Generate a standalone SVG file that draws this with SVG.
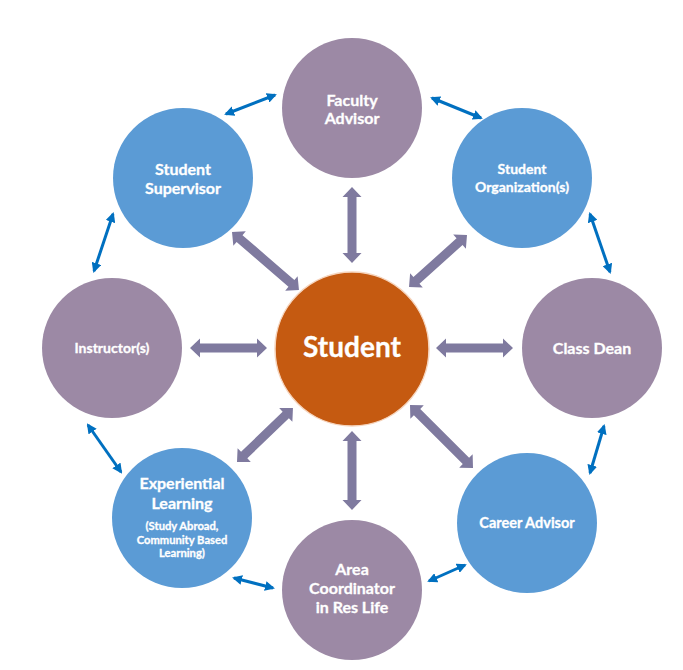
<svg xmlns="http://www.w3.org/2000/svg" width="683" height="670" viewBox="0 0 683 670">
<style>
.purple{fill:#9C89A5}
.blue{fill:#5B9BD5}
.center{fill:#C55A11;stroke:#F6D5BE;stroke-width:1.5}
text{font-family:Lato,"Open Sans","Liberation Sans",sans-serif;font-weight:bold;fill:#FFFFFF;stroke:#FFFFFF;stroke-width:0.3;text-anchor:middle}
.t16{font-size:16px}
.t14{font-size:14px}
.t145{font-size:14.5px}
.t12{font-size:11.2px}
.big{font-size:28px}
.fat{fill:#7F7A9F}
.thin{stroke:#0070C0;stroke-width:3;fill:none;marker-start:url(#bh);marker-end:url(#bh)}
</style>
<defs>
<marker id="bh" viewBox="0 0 10 10" refX="8" refY="5" markerWidth="10" markerHeight="10" markerUnits="userSpaceOnUse" orient="auto-start-reverse">
<path d="M0,0 L10,5 L0,10 z" fill="#0070C0"/>
</marker>
</defs>
<rect width="683" height="670" fill="#FFFFFF"/>
<g id="connectors">
<path class="fat" transform="translate(352,187) rotate(90)" d="M0,0 L10,-9.5 L10,-4.5 L66,-4.5 L66,-9.5 L76,0 L66,9.5 L66,4.5 L10,4.5 L10,9.5 Z"/>
<path class="fat" transform="translate(232,232) rotate(40.9)" d="M0,0 L10,-9.5 L10,-4.5 L78.6,-4.5 L78.6,-9.5 L88.6,0 L78.6,9.5 L78.6,4.5 L10,4.5 L10,9.5 Z"/>
<path class="fat" transform="translate(467,235) rotate(138.1)" d="M0,0 L10,-9.5 L10,-4.5 L67.9,-4.5 L67.9,-9.5 L77.9,0 L67.9,9.5 L67.9,4.5 L10,4.5 L10,9.5 Z"/>
<path class="fat" transform="translate(190,348)" d="M0,0 L10,-9.5 L10,-4.5 L67,-4.5 L67,-9.5 L77,0 L67,9.5 L67,4.5 L10,4.5 L10,9.5 Z"/>
<path class="fat" transform="translate(436,348)" d="M0,0 L10,-9.5 L10,-4.5 L67,-4.5 L67,-9.5 L77,0 L67,9.5 L67,4.5 L10,4.5 L10,9.5 Z"/>
<path class="fat" transform="translate(237,462) rotate(-44)" d="M0,0 L10,-9.5 L10,-4.5 L67.8,-4.5 L67.8,-9.5 L77.8,0 L67.8,9.5 L67.8,4.5 L10,4.5 L10,9.5 Z"/>
<path class="fat" transform="translate(352,431) rotate(90)" d="M0,0 L10,-9.5 L10,-4.5 L69,-4.5 L69,-9.5 L79,0 L69,9.5 L69,4.5 L10,4.5 L10,9.5 Z"/>
<path class="fat" transform="translate(410,405) rotate(45)" d="M0,0 L10,-9.5 L10,-4.5 L79.1,-4.5 L79.1,-9.5 L89.1,0 L79.1,9.5 L79.1,4.5 L10,4.5 L10,9.5 Z"/>
<line class="thin" x1="226" y1="114" x2="275" y2="95"/>
<line class="thin" x1="432" y1="98" x2="481" y2="118"/>
<line class="thin" x1="590" y1="214" x2="610" y2="272"/>
<line class="thin" x1="113" y1="214" x2="94" y2="271"/>
<line class="thin" x1="88" y1="425" x2="121" y2="472"/>
<line class="thin" x1="234" y1="578" x2="273" y2="588"/>
<line class="thin" x1="429" y1="581" x2="465" y2="565"/>
<line class="thin" x1="590" y1="473" x2="604" y2="426"/>
</g>
<g id="student">
<circle class="center" cx="352" cy="349" r="77"/>
<text class="big" x="352" y="357">Student</text>
</g>
<g id="faculty-advisor">
<circle class="purple" cx="352" cy="108" r="70"/>
<text class="t16" x="352" y="106">Faculty</text>
<text class="t16" x="352" y="124">Advisor</text>
</g>
<g id="student-supervisor">
<circle class="blue" cx="183" cy="178" r="70"/>
<text class="t16" x="183" y="175">Student</text>
<text class="t16" x="183" y="194">Supervisor</text>
</g>
<g id="student-organizations">
<circle class="blue" cx="522" cy="178" r="70"/>
<text class="t14" x="522" y="174">Student</text>
<text class="t14" x="522" y="192">Organization(s)</text>
</g>
<g id="instructors">
<circle class="purple" cx="112" cy="348" r="70"/>
<text class="t14" x="112" y="353">Instructor(s)</text>
</g>
<g id="class-dean">
<circle class="purple" cx="592" cy="348" r="70"/>
<text class="t16" x="592" y="354">Class Dean</text>
</g>
<g id="experiential-learning">
<circle class="blue" cx="182" cy="518" r="70"/>
<text class="t16" x="182" y="489">Experiential</text>
<text class="t16" x="182" y="509">Learning</text>
<text class="t12" x="182" y="530">(Study Abroad,</text>
<text class="t12" x="182" y="543.5">Community Based</text>
<text class="t12" x="182" y="557">Learning)</text>
</g>
<g id="area-coordinator">
<circle class="purple" cx="352" cy="590" r="70"/>
<text class="t16" x="352" y="575">Area</text>
<text class="t16" x="352" y="594">Coordinator</text>
<text class="t16" x="352" y="613">in Res Life</text>
</g>
<g id="career-advisor">
<circle class="blue" cx="527" cy="523" r="70"/>
<text class="t145" x="527" y="528">Career Advisor</text>
</g>
</svg>
